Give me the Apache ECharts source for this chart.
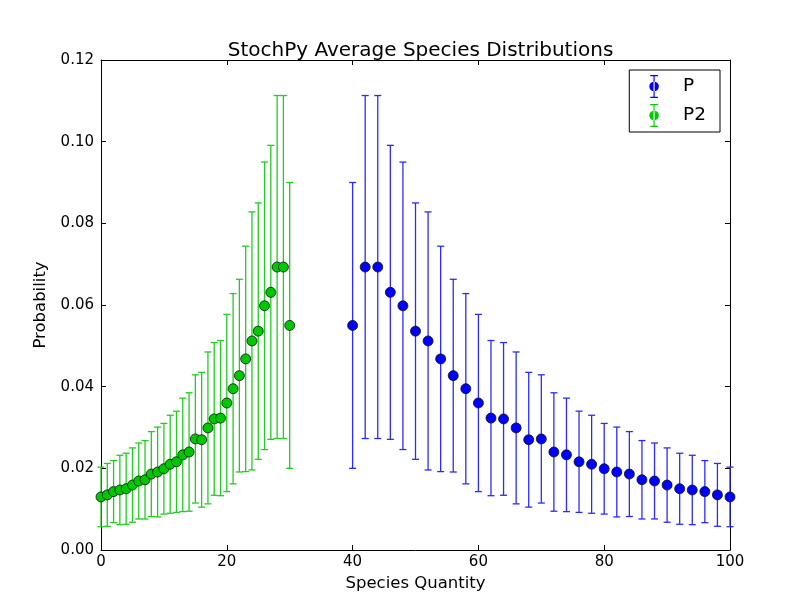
<!DOCTYPE html>
<html><head><meta charset="utf-8">
<script src="https://cdn.jsdelivr.net/npm/echarts@6/dist/echarts.min.js"></script>
<style>html,body{margin:0;padding:0;background:#fff}#c{width:812px;height:612px}</style>
</head><body><div id="c"></div>
<script>
// Series P
const pX = [40,42,44,46,48,50,52,54,56,58,60,62,64,66,68,70,72,74,76,78,80,82,84,86,88,90,92,94,96,98,100];
const pY = [0.0550,0.0693,0.0693,0.0631,0.0598,0.0536,0.0512,0.0468,0.0427,0.0395,0.0360,0.0323,0.0321,0.0299,0.0270,0.0272,0.0240,0.0233,0.0216,0.0210,0.0199,0.0191,0.0186,0.0172,0.0169,0.0159,0.0150,0.0147,0.0143,0.0135,0.0130];
const pErr = [0.0350,0.0420,0.0420,0.0360,0.0352,0.0314,0.0316,0.0276,0.0236,0.0233,0.0217,0.0190,0.0187,0.0186,0.0165,0.0157,0.0145,0.0139,0.0124,0.0120,0.0111,0.0110,0.0104,0.0096,0.0093,0.0091,0.0087,0.0085,0.0076,0.0077,0.0073];
// Series P2
const p2X = [0,1,2,3,4,5,6,7,8,9,10,11,12,13,14,15,16,17,18,19,20,21,22,23,24,25,26,27,28,29,30];
const p2Y = [0.0130,0.0135,0.0143,0.0147,0.0150,0.0159,0.0169,0.0172,0.0186,0.0191,0.0199,0.0210,0.0216,0.0233,0.0240,0.0272,0.0270,0.0299,0.0321,0.0323,0.0360,0.0395,0.0427,0.0468,0.0512,0.0536,0.0598,0.0631,0.0693,0.0693,0.0550];
const p2Err = [0.0073,0.0077,0.0076,0.0085,0.0087,0.0091,0.0093,0.0096,0.0104,0.0110,0.0111,0.0120,0.0124,0.0139,0.0145,0.0157,0.0165,0.0186,0.0187,0.0190,0.0217,0.0233,0.0236,0.0276,0.0316,0.0314,0.0352,0.0360,0.0420,0.0420,0.0350];
const xTicks = [0,20,40,60,80,100];
const yTicks = [0,0.02,0.04,0.06,0.08,0.10,0.12];

const FONT = 'DejaVu Sans';
const chart = echarts.init(document.getElementById('c'), null, {renderer:'canvas'});

function errData(xs, ys, es){ return xs.map((x,i)=>[x, ys[i]-es[i], ys[i]+es[i]]); }
function errRender(color){
  return function(params, api){
    const x = api.value(0);
    const lo = api.coord([x, api.value(1)]);
    const hi = api.coord([x, api.value(2)]);
    const cw = 3.5;
    const st = {stroke: color, lineWidth: 1.3};
    return {type:'group', children:[
      {type:'line', shape:{x1:lo[0],y1:lo[1],x2:hi[0],y2:hi[1]}, style:st},
      {type:'line', shape:{x1:lo[0]-cw,y1:lo[1],x2:lo[0]+cw,y2:lo[1]}, style:st},
      {type:'line', shape:{x1:hi[0]-cw,y1:hi[1],x2:hi[0]+cw,y2:hi[1]}, style:st}
    ]};
  };
}
const iconPath = 'path://M3,0h8v1.2h-8z M6.4,0h1.2v24h-1.2z M3,22.8h8v1.2h-8z M7,7a5,5 0 1,0 0.001,0z';

const axisCommon = {
  type:'value', min:0,
  axisLine:{show:true, onZero:false, lineStyle:{color:'#000', width:1}},
  axisTick:{show:true, inside:true, length:5, lineStyle:{color:'#000'}},
  splitLine:{show:false}
};

chart.setOption({
  animation:false,
  backgroundColor:'#fff',
  title:{text:'StochPy Average Species Distributions', left:415.5, textAlign:'center', top:36,
    textStyle:{fontFamily:FONT, fontSize:20, fontWeight:'normal', color:'#000'}},
  grid:{left:101, right:82, top:60, bottom:62, show:false},
  legend:{
    right:92, top:70, orient:'vertical', padding:[5,14,5,20], itemGap:6,
    borderColor:'#000', borderWidth:1, borderRadius:0,
    itemWidth:14, itemHeight:23,
    textStyle:{fontFamily:FONT, fontSize:18.5, color:'#000', padding:[0,0,0,17]},
    itemStyle:{borderWidth:0},
    data:[{name:'P', icon:iconPath},{name:'P2', icon:iconPath}]
  },
  xAxis:[
    Object.assign({}, axisCommon, {position:'bottom', max:100, interval:20,
      name:'Species Quantity', nameLocation:'middle', nameGap:24,
      nameTextStyle:{fontFamily:FONT, fontSize:16.5, color:'#000'},
      axisLabel:{fontFamily:FONT, fontSize:15, color:'#000', margin:5}}),
    Object.assign({}, axisCommon, {position:'top', max:100, interval:20, axisLabel:{show:false}})
  ],
  yAxis:[
    Object.assign({}, axisCommon, {position:'left', max:0.12, interval:0.02,
      name:'Probability', nameLocation:'middle', nameGap:47,
      nameTextStyle:{fontFamily:FONT, fontSize:16.5, color:'#000'},
      axisLabel:{fontFamily:FONT, fontSize:15, color:'#000', margin:7, formatter:v=>v.toFixed(2)}}),
    Object.assign({}, axisCommon, {position:'right', max:0.12, interval:0.02, axisLabel:{show:false}})
  ],
  series:[
    {name:'P', type:'custom', renderItem:errRender('#2b2bff'), data:errData(pX,pY,pErr),
      itemStyle:{color:'#0000ff'}, encode:{x:0,y:[1,2]}, z:2},
    {name:'P2', type:'custom', renderItem:errRender('#22cc22'), data:errData(p2X,p2Y,p2Err),
      itemStyle:{color:'#00cc00'}, encode:{x:0,y:[1,2]}, z:2},
    {name:'P', type:'scatter', symbol:'circle', symbolSize:10, data:pX.map((x,i)=>[x,pY[i]]),
      itemStyle:{color:'#0000ff', borderColor:'#111', borderWidth:0.8, opacity:1}, z:3},
    {name:'P2', type:'scatter', symbol:'circle', symbolSize:10, data:p2X.map((x,i)=>[x,p2Y[i]]),
      itemStyle:{color:'#00c800', borderColor:'#111', borderWidth:0.8, opacity:1}, z:3}
  ]
});
</script>
</body></html>
